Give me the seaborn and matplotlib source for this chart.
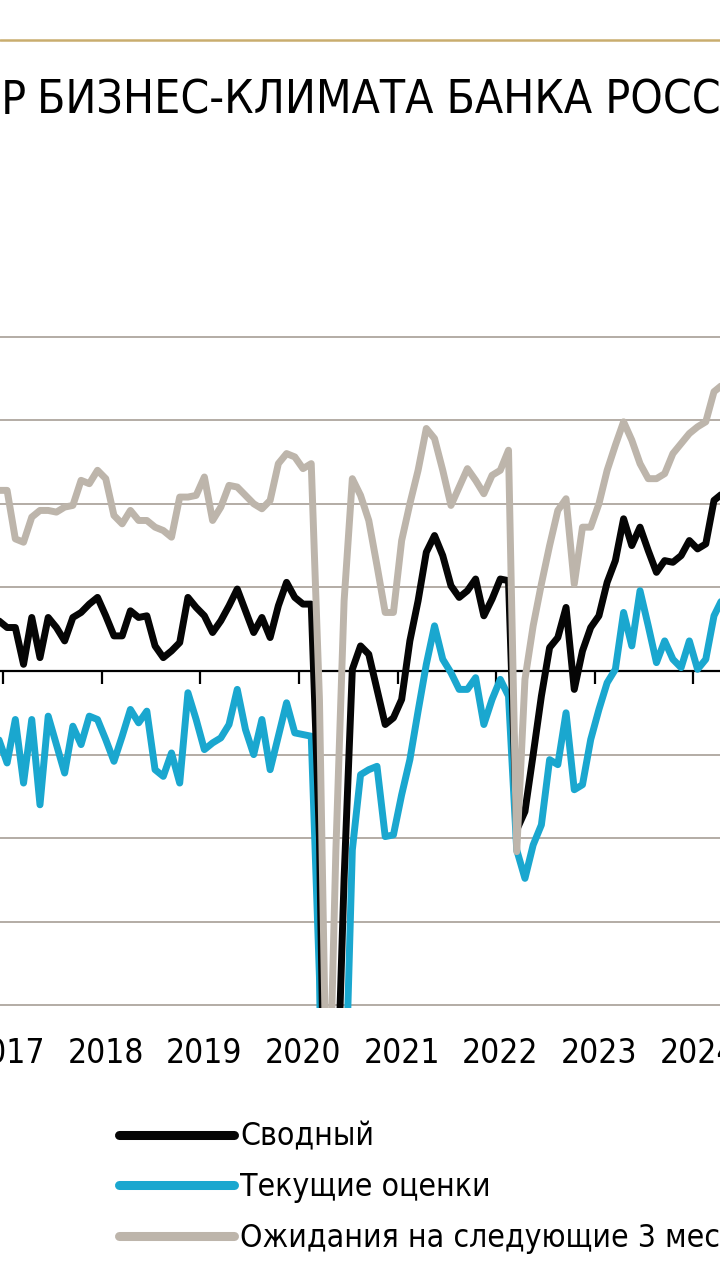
import numpy as np
import pandas as pd
import matplotlib
matplotlib.use("Agg")
import matplotlib.pyplot as plt
from matplotlib import font_manager
import seaborn as sns

# Monthly values, Dec 2016 .. Apr 2024
months = pd.date_range("2016-12-01", "2024-04-01", freq="MS")

composite = [3.0, 2.6, 2.6, 0.4, 3.2, 0.8, 3.2, 2.6, 1.8, 3.2, 3.5, 4.0, 4.4,
             3.3, 2.1, 2.1, 3.6, 3.2, 3.3, 1.5, 0.8, 1.2, 1.7, 4.4, 3.8,
             3.3, 2.3, 3.0, 3.9, 4.9, 3.6, 2.3, 3.2, 2.0, 3.9, 5.3, 4.4,
             4.0, 4.0, -10.0, -39.0, -28.0, -12.4, 0.1, 1.5, 1.0, -1.1, -3.2, -2.8,
             -1.7, 1.8, 4.2, 7.1, 8.1, 6.9, 5.1, 4.4, 4.8, 5.5, 3.3, 4.3,
             5.5, 5.4, -9.5, -8.4, -5.0, -1.5, 1.4, 2.0, 3.8, -1.1, 1.2, 2.6,
             3.3, 5.3, 6.6, 9.1, 7.5, 8.6, 7.2, 5.9, 6.6, 6.5, 6.9, 7.8,
             7.3, 7.6, 10.2, 10.6]

current = [-4.1, -5.5, -2.9, -6.7, -2.9, -8.0, -2.7, -4.4, -6.1, -3.3, -4.4, -2.7, -2.9,
           -4.1, -5.4, -3.9, -2.3, -3.1, -2.4, -5.9, -6.3, -4.9, -6.7, -1.3, -2.9,
           -4.7, -4.3, -4.0, -3.2, -1.1, -3.5, -5.0, -2.9, -5.9, -3.9, -1.9, -3.7,
           -3.8, -3.9, -18.3, -48.0, -45.0, -28.0, -10.7, -6.2, -5.9, -5.7, -9.9, -9.8,
           -7.4, -5.3, -2.4, 0.4, 2.7, 0.7, -0.1, -1.1, -1.1, -0.4, -3.2, -1.7,
           -0.5, -1.5, -10.7, -12.4, -10.4, -9.2, -5.3, -5.6, -2.5, -7.1, -6.8, -4.1,
           -2.3, -0.7, 0.1, 3.5, 1.5, 4.8, 2.7, 0.5, 1.8, 0.7, 0.2, 1.8,
           0.1, 0.7, 3.3, 4.3]

expect = [10.8, 10.8, 7.9, 7.7, 9.2, 9.6, 9.6, 9.5, 9.8, 9.9, 11.4, 11.2, 12.0,
          11.5, 9.3, 8.8, 9.6, 9.0, 9.0, 8.6, 8.4, 8.0, 10.4, 10.4, 10.5,
          11.6, 9.0, 9.8, 11.1, 11.0, 10.5, 10.0, 9.7, 10.2, 12.4, 13.0, 12.8,
          12.1, 12.4, -1.7, -30.0, -10.7, 4.2, 11.5, 10.5, 9.0, 6.3, 3.5, 3.5,
          7.8, 10.0, 12.0, 14.5, 13.9, 12.0, 9.9, 11.0, 12.1, 11.4, 10.6, 11.7,
          12.0, 13.2, -10.8, -0.5, 2.7, 5.2, 7.5, 9.6, 10.3, 5.2, 8.6, 8.6,
          10.0, 12.0, 13.5, 14.9, 13.8, 12.4, 11.5, 11.5, 11.8, 13.0, 13.6, 14.2,
          14.6, 14.9, 16.7, 17.1]

years = [2017, 2018, 2019, 2020, 2021, 2022, 2023, 2024]
labels = ["Сводный", "Текущие оценки", "Ожидания на следующие 3 месяца"]
colors = {"Сводный": "#050505", "Текущие оценки": "#1aa7cf",
          "Ожидания на следующие 3 месяца": "#bdb5ab"}

# month index counted from Jan 2017
idx = (months.year - 2017) * 12 + months.month - 1
df = pd.DataFrame({"m": idx, labels[0]: composite, labels[1]: current, labels[2]: expect})
long = df.melt(id_vars="m", var_name="series", value_name="value")

sns.set_theme(style="white")
plt.rcParams["text.color"] = "black"
plt.rcParams["xtick.color"] = "black"

# look for a narrow face by file name (Liberation Sans Narrow, DejaVu Sans Condensed ...)
narrow_file = None
for key in ("LiberationSansNarrow-Regular", "DejaVuSansCondensed.ttf", "Condensed-Regular"):
    hits = [f.fname for f in font_manager.fontManager.ttflist if key in f.fname]
    if hits:
        narrow_file = hits[0]
        break
if narrow_file:
    fp = font_manager.FontProperties(fname=narrow_file)
    k = 1.0 if "Narrow" in narrow_file else 0.88
else:
    fp = font_manager.FontProperties(family="Liberation Sans")
    k = 0.82

def font(size):
    p = fp.copy()
    p.set_size(size * k)
    return p

fig = plt.figure(figsize=(7.2, 12.8), dpi=100)
ax = fig.add_axes([0, 1 - 1008 / 1280, 1, (1008 - 334) / 1280])

# gridlines
for v in range(-20, 25, 5):
    if v != 0:
        ax.axhline(v, color="#aea69e", lw=1.3, zorder=0)

# draw order: current, composite, expectations on top
for name in [labels[1], labels[0], labels[2]]:
    sns.lineplot(data=long[long.series == name], x="m", y="value", color=colors[name],
                 linewidth=5.0, ax=ax, label=name, solid_capstyle="round",
                 solid_joinstyle="round", zorder=3)

ax.axhline(0, color="black", lw=1.6, zorder=2)
ax.vlines([12 * i - 0.5 for i in range(len(years))], -0.75, 0, color="black", lw=1.6, zorder=2)

ax.set_xlim(-0.864, 86.73)
ax.set_ylim(-20.15, 20.15)
ax.set_xticks([12 * i for i in range(len(years))])
ax.set_xticklabels([str(y) for y in years], fontproperties=font(27.3))
ax.tick_params(axis="x", length=0, pad=21)
ax.set_yticks([])
ax.set_xlabel("")
ax.set_ylabel("")
for s in ax.spines.values():
    s.set_visible(False)

fs_leg = 26 * k
handles, labs = ax.get_legend_handles_labels()
order = [labs.index(l) for l in labels]
leg = fig.legend([handles[i] for i in order], [labs[i] for i in order],
                 loc="upper left", bbox_to_anchor=(106 / 720, 1 - 1109 / 1280),
                 frameon=False, prop=font(26), handlelength=115 / (fs_leg * 100 / 72),
                 handletextpad=0.2, labelspacing=0.62, borderaxespad=0)
for h in leg.get_lines():
    h.set_linewidth(6.5)
ax.get_legend().remove()

# golden rule and the (cropped) title
fig.add_artist(plt.Line2D([0, 1], [1 - 40 / 1280] * 2, color="#c9ad6e", lw=1.8))
fig.text(27 / 720, 1 - 101 / 1280, "ИНДИКАТОР", ha="right", va="center", fontproperties=font(37.6))
fig.text(37 / 720, 1 - 101 / 1280, "БИЗНЕС-КЛИМАТА БАНКА РОССИИ", ha="left", va="center",
         fontproperties=font(37.6))

fig.savefig("out.png", dpi=100, facecolor="white")
